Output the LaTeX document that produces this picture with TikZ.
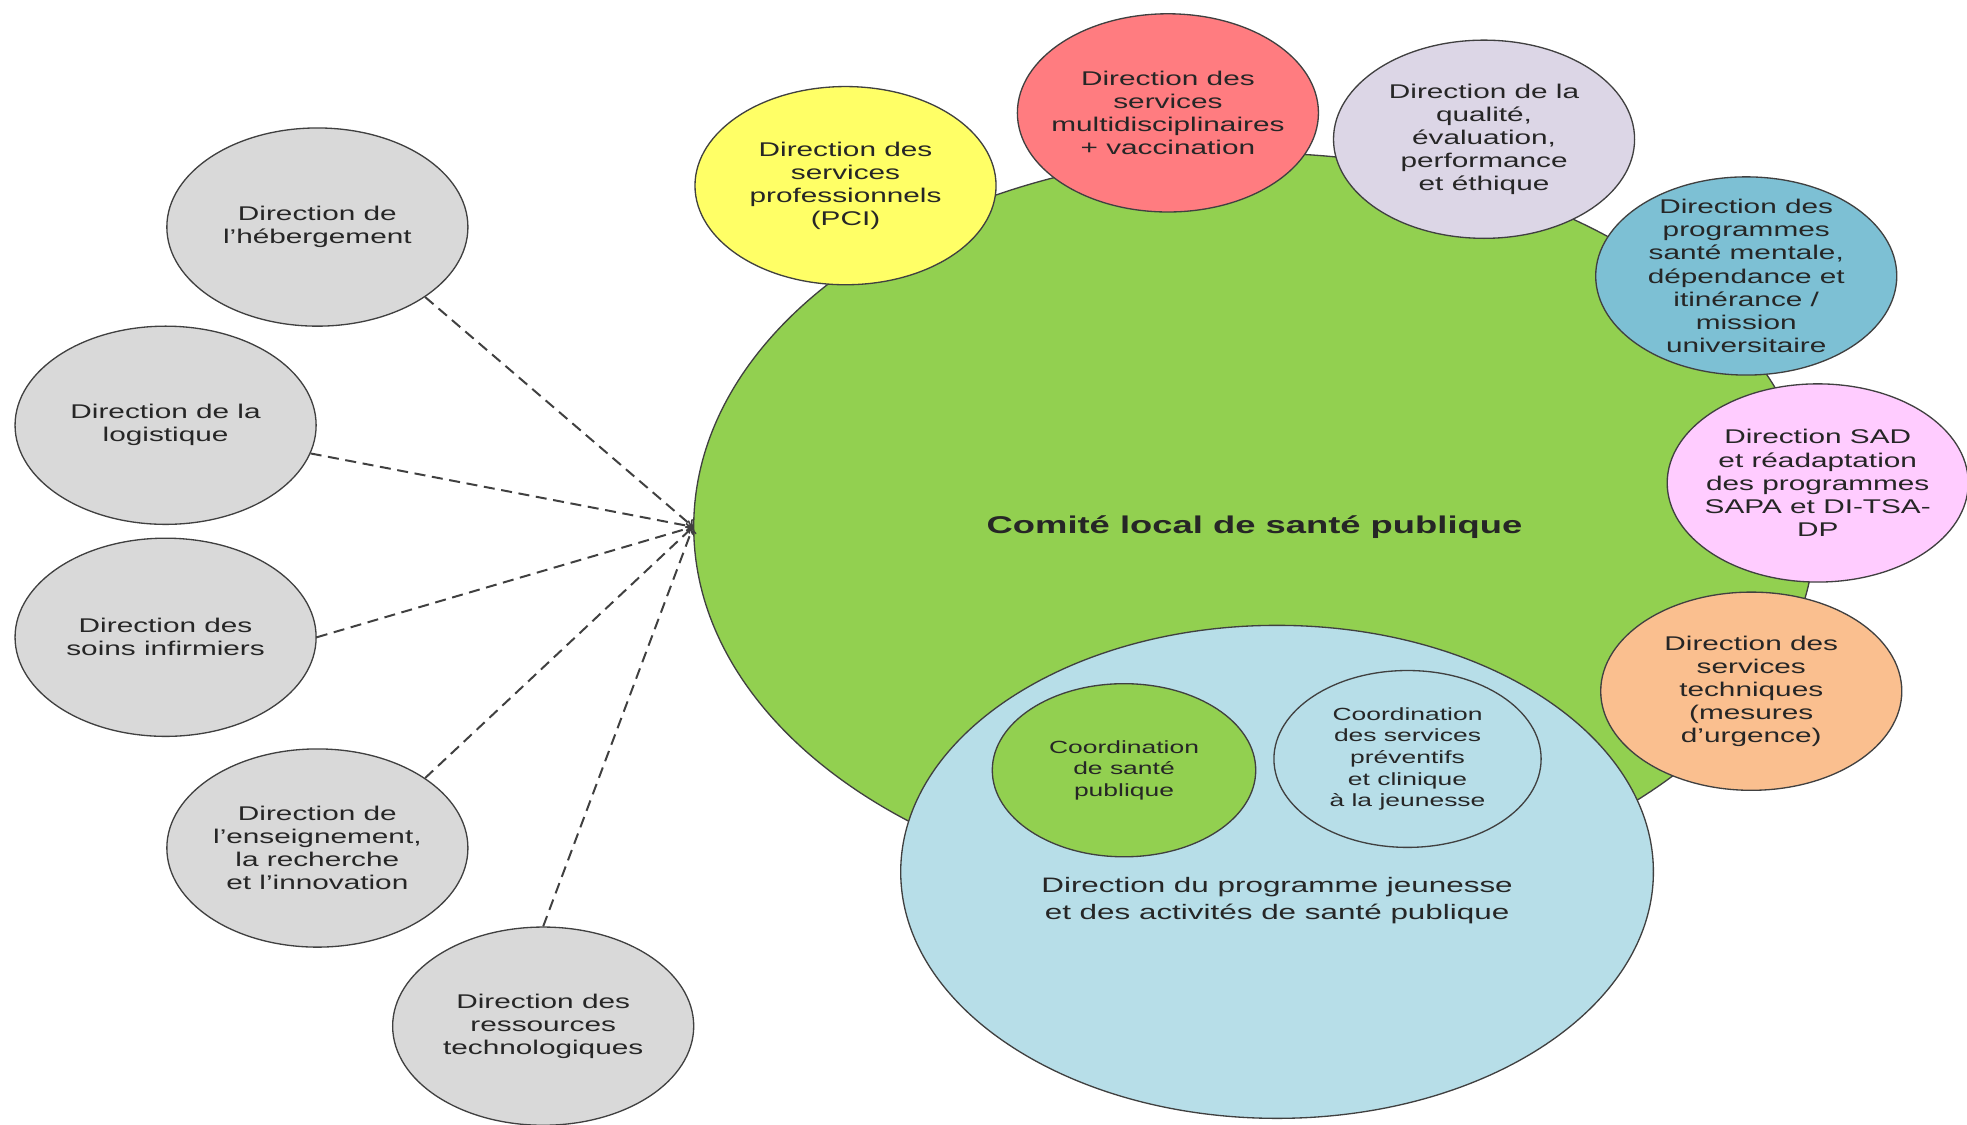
\documentclass[tikz,border=0pt]{standalone}
\usepackage{fontspec}
\setmainfont[FakeStretch=1.5]{Liberation Sans}
\usepackage{tikz}
\usetikzlibrary{shapes,arrows,positioning}

\definecolor{gris}{HTML}{D9D9D9}
\definecolor{vert}{HTML}{92D050}
\definecolor{bleuclair}{HTML}{B7DEE8}
\definecolor{jaune}{HTML}{FFFF66}
\definecolor{rouge}{HTML}{FF7C80}
\definecolor{lilas}{HTML}{DCD6E6}
\definecolor{turquoise}{HTML}{7DC0D4}
\definecolor{rose}{HTML}{FFCCFF}
\definecolor{peche}{HTML}{FABF8F}
\definecolor{trait}{HTML}{404040}

\begin{document}
\begin{tikzpicture}[
    bulle/.style={ellipse, draw=trait, line width=0.6pt, minimum width=4.8cm, minimum height=3.16cm,
        inner sep=-8pt, align=center, text=black!85, font=\fontsize{9}{10.5}\selectfont},
    petite/.style={bulle, minimum width=4.2cm, minimum height=2.76cm, font=\fontsize{8}{9.8}\selectfont},
    lien/.style={trait, line width=0.9pt, dash pattern=on 5pt off 3pt, ->}
]
            \useasboundingbox (0,0) rectangle (31.36,17.92);

            % le comite et ses directions
            \node[bulle, fill=vert, minimum width=17.88cm, minimum height=11.92cm,
                font=\fontsize{11}{13}\selectfont\bfseries] (comite) at (20.0,9.52) {Comité local de santé publique};
            \node[bulle, fill=jaune] (pci) at (13.48,14.96) {Direction des\\services\\professionnels\\(PCI)};
            \node[bulle, fill=rouge] (multi) at (18.62,16.12) {Direction des\\services\\multidisciplinaires\\+ vaccination};
            \node[bulle, fill=lilas] (qualite) at (23.66,15.70) {Direction de la\\qualité,\\évaluation,\\performance\\et éthique};
            \node[bulle, fill=turquoise] (mentale) at (27.84,13.52) {Direction des\\programmes\\santé mentale,\\dépendance et\\itinérance /\\mission\\universitaire};
            \node[bulle, fill=rose] (sad) at (28.98,10.22) {Direction SAD\\et réadaptation\\des programmes\\SAPA et DI-TSA-\\DP};
            \node[bulle, fill=peche] (techniques) at (27.92,6.90) {Direction des\\services\\techniques\\(mesures\\d'urgence)};

            \node[bulle, fill=bleuclair, minimum width=12cm, minimum height=7.86cm] (jeunesse) at (20.36,4.02) {};
            \node[align=center, text=black!85, font=\fontsize{9.5}{12}\selectfont] (txtjeunesse) at (20.36,3.56) {Direction du programme jeunesse\\et des activités de santé publique};
            \node[petite, fill=vert] (coordsp) at (17.92,5.64) {Coordination\\de santé\\publique};
            \node[petite, fill=bleuclair, minimum width=4.26cm, minimum height=2.82cm] (coordprev) at (22.44,5.82) {Coordination\\des services\\préventifs\\et clinique\\à la jeunesse};

            % directions en lien
            \node[bulle, fill=gris] (heberg) at (5.06,14.30) {Direction de\\l'hébergement};
            \node[bulle, fill=gris] (logist) at (2.64,11.14) {Direction de la\\logistique};
            \node[bulle, fill=gris] (soins) at (2.64,7.76) {Direction des\\soins infirmiers};
            \node[bulle, fill=gris] (enseign) at (5.06,4.40) {Direction de\\l'enseignement,\\la recherche\\et l'innovation};
            \node[bulle, fill=gris] (techno) at (8.66,1.56) {Direction des\\ressources\\technologiques};

            \foreach \n/\a in {heberg/-33,logist/-11,soins/0,enseign/33,techno/90}
                \draw[lien] (\n.\a) -- (comite.west);
\end{tikzpicture}
\end{document}
